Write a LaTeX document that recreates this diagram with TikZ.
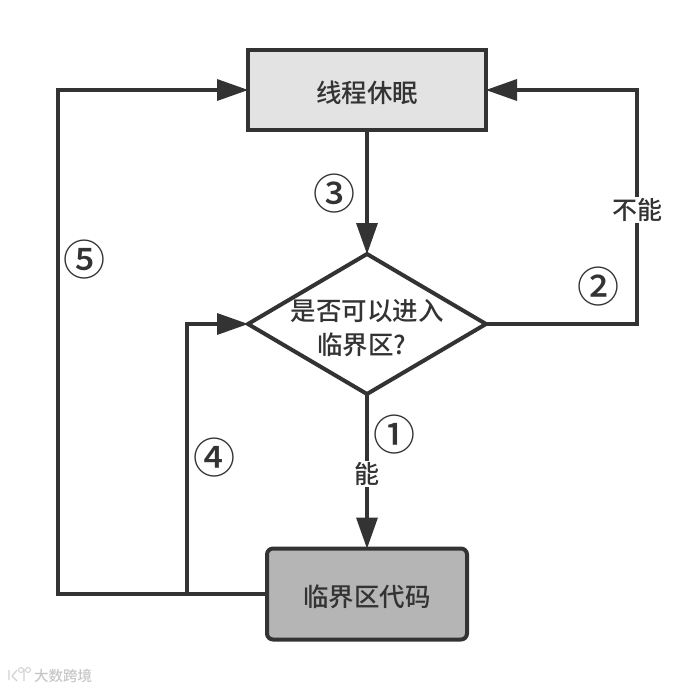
\documentclass[tikz,border=0pt]{standalone}
\usepackage{fontspec}
\newfontfamily\cjk{Noto Sans CJK SC Medium}
\newfontfamily\sym{Noto Sans CJK SC Medium}
\usetikzlibrary{arrows.meta}
\definecolor{ink}{HTML}{333333}
\tikzset{
 x=1pt,y=-1pt,
 boxa/.style={draw=ink,line width=4pt,fill=#1,inner sep=0pt,outer sep=0pt,font=\cjk\fontsize{25.5}{30}\selectfont,text=ink},
 conn/.style={draw=ink,line width=4pt,-{Triangle[length=31pt,width=22pt,line width=0pt,fill=ink]}},
 plain/.style={draw=ink,line width=4pt},
 lab/.style={font=\cjk\fontsize{25}{30}\selectfont,text=ink,fill=white,inner sep=1pt},
 num/.style={font=\sym\fontsize{42}{42}\selectfont,text=ink,inner sep=0pt},
 wm/.style={font=\cjk\fontsize{14.5}{15}\selectfont,text=black!22,inner sep=0pt},
}
\begin{document}
\begin{tikzpicture}
\useasboundingbox (0,0) rectangle (693,690);
\fill[white] (0,0) rectangle (693,690);
\node[boxa={black!11},minimum width=238pt,minimum height=80pt] (sleep) at (367,90) {\raisebox{-2.5pt}[\height][\depth]{线程休眠}};
\node[font=\cjk\fontsize{25.5}{34}\selectfont,text=ink,inner sep=0pt,align=center] (dtext) at (367,328) {是否可以进入\\临界区?\hspace*{10pt}};
\coordinate (dt) at (367,254);
\coordinate (dr) at (486,324);
\coordinate (db) at (367,394);
\coordinate (dl) at (248,324);
\draw[plain,line join=miter] (dt) -- (dr) -- (db) -- (dl) -- cycle;
\node[boxa={black!29},rounded corners=6pt,minimum width=200pt,minimum height=91pt] (code) at (367,594) {\raisebox{-2.5pt}[\height][\depth]{临界区代码}};
\coordinate (c1) at (637,324);
\coordinate (c2) at (637,90);
\coordinate (c3) at (187,594);
\coordinate (c4) at (187,324);
\coordinate (c5) at (58,594);
\coordinate (c6) at (58,90);
\draw[conn] (sleep.south) -- (dt);
\draw[conn] (db) -- (code.north);
\draw[conn] (dr) -- (c1) -- (c2) -- (sleep.east);
\draw[conn] (c3) -- (c4) -- (dl);
\draw[conn] (code.west) -- (c5) -- (c6) -- (sleep.west);
\node[lab] (no) at (637,210) {不能};
\node[lab] (yes) at (367,474) {能};
\node[num] (n1) at (394,435) {①};
\node[num] (n2) at (598,287) {②};
\node[num] (n3) at (334,194) {③};
\node[num] (n4) at (214,458) {④};
\node[num] (n5) at (84,260) {⑤};
\node[wm] (mark) at (63,676) {大数跨境};
\draw[black!18,line width=1.2pt] (9,670) -- (9,680) (12,676) -- (17,670) (12,676) -- (17,681) (24,669) -- (24,681);
\draw[black!18,line width=.9pt] (21,670) circle (2.5pt) (28,670) circle (2.5pt);
\end{tikzpicture}
\end{document}
